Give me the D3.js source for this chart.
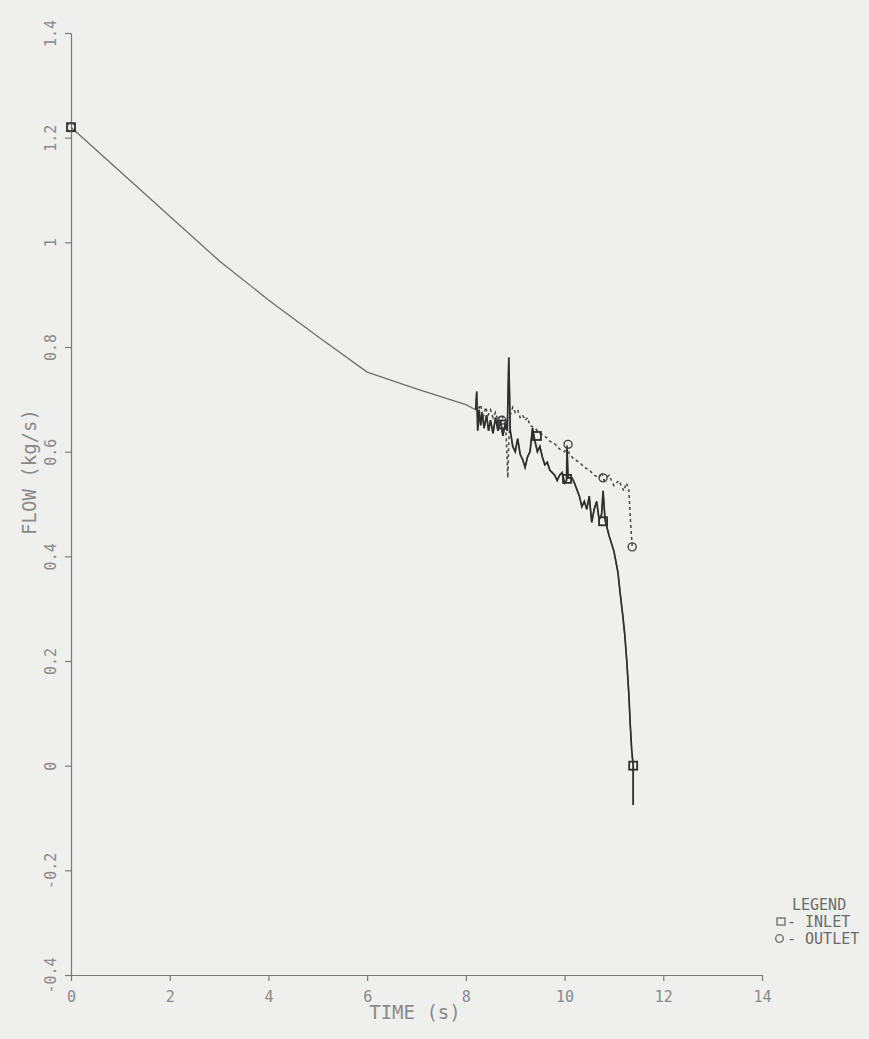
<!DOCTYPE html>
<html>
<head>
<meta charset="utf-8">
<script src="https://cdn.jsdelivr.net/npm/d3@7"></script>
<style>
  body { margin: 0; background: #efefed; }
  svg { display: block; }
  text { font-family: "DejaVu Sans Mono", monospace; fill: #8a8a8a; }
</style>
</head>
<body>
<svg id="chart" width="869" height="1039"></svg>
<script>
// tick labels
const xTicks = [0, 2, 4, 6, 8, 10, 12, 14];
const yTicks = [-0.4, -0.2, 0, 0.2, 0.4, 0.6, 0.8, 1, 1.2, 1.4];

// inlet flow (solid line)
const inletTime = [0, 1, 2, 3, 4, 5, 6, 7, 8, 8.2,
  8.22, 8.24, 8.27, 8.3, 8.33, 8.37, 8.42, 8.46, 8.5, 8.55, 8.6, 8.65, 8.7, 8.75,
  8.8, 8.84, 8.87, 8.9, 8.95, 9.0, 9.05, 9.1, 9.15, 9.2, 9.25, 9.3, 9.35, 9.4,
  9.45, 9.5, 9.55, 9.6, 9.65, 9.7, 9.75, 9.8, 9.85, 9.9, 9.95, 10.0, 10.04, 10.05,
  10.07, 10.15, 10.2, 10.3, 10.35, 10.4, 10.45, 10.5, 10.55, 10.6, 10.65, 10.7,
  10.75, 10.78, 10.82, 10.86, 10.9, 11.0, 11.08, 11.12, 11.17, 11.22, 11.26, 11.3,
  11.33, 11.36, 11.39, 11.39];
const inletFlow = [1.22, 1.135, 1.05, 0.965, 0.89, 0.82, 0.752, 0.72, 0.69, 0.68,
  0.715, 0.64, 0.68, 0.65, 0.675, 0.645, 0.67, 0.64, 0.66, 0.635, 0.665, 0.64, 0.66, 0.63,
  0.655, 0.64, 0.78, 0.64, 0.61, 0.6, 0.625, 0.595, 0.585, 0.57, 0.59, 0.6, 0.645, 0.62,
  0.6, 0.61, 0.59, 0.575, 0.58, 0.565, 0.56, 0.555, 0.545, 0.555, 0.56, 0.54, 0.545, 0.61,
  0.55, 0.55, 0.54, 0.515, 0.495, 0.505, 0.49, 0.515, 0.465, 0.49, 0.505, 0.47,
  0.48, 0.525, 0.47, 0.455, 0.44, 0.41, 0.37, 0.335, 0.295, 0.25, 0.2, 0.14,
  0.08, 0.03, 0.0, -0.075];

// outlet flow (dotted line)
const outletTime = [0, 1, 2, 3, 4, 5, 6, 7, 8, 8.2,
  8.25, 8.3, 8.35, 8.4, 8.45, 8.5, 8.55, 8.6, 8.65, 8.7, 8.75, 8.8, 8.83, 8.85,
  8.87, 8.9, 8.95, 9.0, 9.05, 9.1, 9.15, 9.2, 9.25, 9.3, 9.4, 9.5, 9.6, 9.7, 9.8,
  9.9, 10.0, 10.05, 10.1, 10.2, 10.3, 10.4, 10.5, 10.6, 10.7, 10.75, 10.8, 10.9,
  11.0, 11.1, 11.2, 11.25, 11.3, 11.34, 11.37];
const outletFlow = [1.22, 1.135, 1.05, 0.965, 0.89, 0.82, 0.752, 0.72, 0.69, 0.7,
  0.68, 0.69, 0.665, 0.685, 0.67, 0.68, 0.665, 0.675, 0.66, 0.67, 0.665, 0.66, 0.6, 0.55,
  0.62, 0.67, 0.685, 0.675, 0.68, 0.665, 0.67, 0.66, 0.665, 0.65, 0.645, 0.635, 0.63, 0.62, 0.615,
  0.605, 0.6, 0.61, 0.595, 0.585, 0.58, 0.57, 0.565, 0.555, 0.55, 0.56, 0.545, 0.555,
  0.535, 0.545, 0.525, 0.54, 0.53, 0.46, 0.42];

// plot symbols
const inletMarkTime = [0, 8.73, 9.44, 10.05, 10.78, 11.39];
const inletMarkFlow = [1.22, 0.652, 0.63, 0.548, 0.467, 0.0];
const outletMarkTime = [0, 8.73, 10.07, 10.78, 11.37];
const outletMarkFlow = [1.22, 0.66, 0.614, 0.55, 0.418];

const svg = d3.select("#chart");

const x = d3.scaleLinear().domain([0, 14]).range([71, 762]);
const y = d3.scaleLinear().domain([-0.4, 1.4]).range([975, 33]);

const fmt = d => String(Math.round(d * 10) / 10);

// x axis
const gx = svg.append("g")
    .attr("transform", `translate(0,${y(-0.4)})`)
    .call(d3.axisBottom(x).tickValues(xTicks).tickSize(6).tickSizeOuter(0).tickFormat(fmt));
gx.selectAll("text").attr("dy", "1.2em").style("font-size", "15px");

// y axis
const gy = svg.append("g")
    .attr("transform", `translate(${x(0)},0)`)
    .call(d3.axisLeft(y).tickValues(yTicks).tickSize(6).tickSizeOuter(0).tickFormat(fmt));
gy.selectAll("text")
    .attr("x", 0).attr("y", 0).attr("dy", "0.35em")
    .attr("text-anchor", "middle")
    .attr("transform", "translate(-20,0) rotate(-90)")
    .style("font-size", "15px");

svg.selectAll(".domain, .tick line").attr("stroke", "#7a7a7a").attr("stroke-width", 1.2);

// axis titles
svg.append("text")
    .attr("x", 415).attr("y", 1019)
    .attr("text-anchor", "middle")
    .style("font-size", "19px")
    .text("TIME (s)");

svg.append("text")
    .attr("transform", "translate(36,472) rotate(-90)")
    .attr("text-anchor", "middle")
    .style("font-size", "19px")
    .text("FLOW (kg/s)");

// lines
const inlet = inletTime.map((t, i) => [t, inletFlow[i]]);
const outlet = outletTime.map((t, i) => [t, outletFlow[i]]);
const line = d3.line().x(d => x(d[0])).y(d => y(d[1]));

// smooth part is fainter on the copy, the noisy tail darker
svg.append("path")
    .datum(inlet)
    .attr("d", line)
    .attr("fill", "none")
    .attr("stroke", "#6e6e6e")
    .attr("stroke-width", 1.3);

svg.append("path")
    .datum(inlet.filter(d => d[0] >= 8.2))
    .attr("d", line)
    .attr("fill", "none")
    .attr("stroke", "#2e2e2e")
    .attr("stroke-width", 1.7);

svg.append("path")
    .datum(outlet.filter(d => d[0] >= 8.2))
    .attr("d", line)
    .attr("fill", "none")
    .attr("stroke", "#444")
    .attr("stroke-width", 1.5)
    .attr("stroke-dasharray", "3,3");

// symbols
svg.append("g").selectAll("rect")
    .data(inletMarkTime.map((t, i) => [t, inletMarkFlow[i]]))
    .join("rect")
      .attr("x", d => x(d[0]) - 4)
      .attr("y", d => y(d[1]) - 4)
      .attr("width", 8).attr("height", 8)
      .attr("fill", "none")
      .attr("stroke", "#2e2e2e")
      .attr("stroke-width", 1.8);

svg.append("g").selectAll("circle")
    .data(outletMarkTime.map((t, i) => [t, outletMarkFlow[i]]))
    .join("circle")
      .attr("cx", d => x(d[0]))
      .attr("cy", d => y(d[1]))
      .attr("r", 4)
      .attr("fill", "none")
      .attr("stroke", "#444")
      .attr("stroke-width", 1.4);

// legend
const lg = svg.append("g");
lg.append("text").attr("x", 792).attr("y", 910).style("font-size", "15px").style("fill", "#6a6a6a").text("LEGEND");
lg.append("rect").attr("x", 777).attr("y", 918).attr("width", 8).attr("height", 7)
    .attr("fill", "none").attr("stroke", "#6a6a6a").attr("stroke-width", 1.3);
lg.append("text").attr("x", 787).attr("y", 927).style("font-size", "15px").style("fill", "#6a6a6a").text("- INLET");
lg.append("circle").attr("cx", 779.5).attr("cy", 938.5).attr("r", 3.8)
    .attr("fill", "none").attr("stroke", "#6a6a6a").attr("stroke-width", 1.3);
lg.append("text").attr("x", 787).attr("y", 944).style("font-size", "15px").style("fill", "#6a6a6a").text("- OUTLET");
</script>
</body>
</html>
